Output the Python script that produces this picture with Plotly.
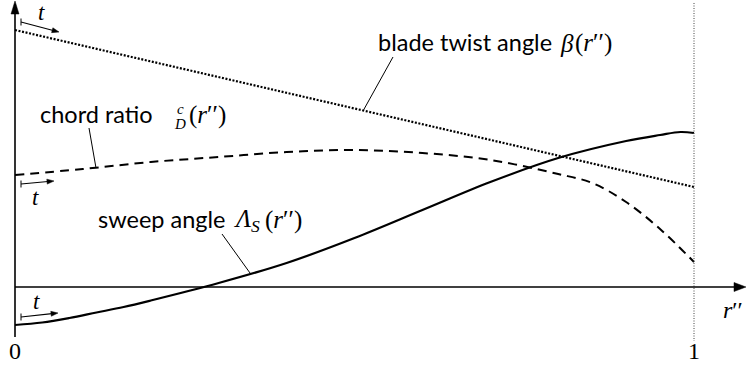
import math
import plotly.graph_objects as go

# Normalised radius r'' and the three blade distributions (arbitrary units)
r_twist = [0.0, 1.0]
beta = [2.57, 1.00]

r_chord = [0.0, 0.1, 0.2, 0.3, 0.4, 0.5, 0.6, 0.7, 0.8, 0.85, 0.9, 0.95, 1.0]
chord = [1.12, 1.18, 1.25, 1.30, 1.35, 1.37, 1.34, 1.27, 1.13, 1.04, 0.85, 0.58, 0.25]

r_sweep = [0.0, 0.04, 0.08, 0.12, 0.16, 0.2, 0.3, 0.4, 0.5, 0.6, 0.7, 0.8, 0.9, 0.95, 0.98, 1.0]
sweep = [-0.38, -0.355, -0.31, -0.255, -0.20, -0.135, 0.04, 0.24, 0.49, 0.77, 1.05, 1.29, 1.46, 1.52, 1.55, 1.54]

x_ticks = [0, 1]
x_tick_labels = ["0", "1"]

W, H = 746, 370
X0, X1, Y0 = 15, 694, 287  # pixel origin, r''=1 column, y=0 row
YS = 100.0


def X(px):
    return (px - X0) / (X1 - X0)


def Y(py):
    return (Y0 - py) / YS


SANS = "Lato"
SERIF = "Liberation Serif"
TXT = 23.5
MATH = 25
fig = go.Figure()

fig.add_trace(go.Scatter(x=r_twist, y=beta, mode="lines",
                         line=dict(color="black", width=2.2, dash="2px,1.6px")))
fig.add_trace(go.Scatter(x=r_chord, y=chord, mode="lines", line_shape="spline",
                         line=dict(color="black", width=2, dash="9px,6px")))
fig.add_trace(go.Scatter(x=r_sweep, y=sweep, mode="lines", line_shape="spline",
                         line=dict(color="black", width=2.2)))

shapes = []
ann = []


def seg(a, b, width, color="black", dash=None):
    line = dict(color=color, width=width)
    if dash:
        line["dash"] = dash
    shapes.append(dict(type="line", xref="x", yref="y", x0=X(a[0]), y0=Y(a[1]),
                       x1=X(b[0]), y1=Y(b[1]), line=line))


def arrow(tail, tip, width, head_len, head_w):
    # shaft plus a filled triangular head, sized in pixels
    dx, dy = tip[0] - tail[0], tip[1] - tail[1]
    n = math.hypot(dx, dy)
    ux, uy = dx / n, dy / n
    bx, by = tip[0] - ux * head_len, tip[1] - uy * head_len
    seg(tail, (bx + ux, by + uy), width)
    px, py = -uy * head_w / 2, ux * head_w / 2
    pts = [tip, (bx + px, by + py), (bx - px, by - py)]
    path = "M " + " L ".join(f"{X(p[0])},{Y(p[1])}" for p in pts) + " Z"
    shapes.append(dict(type="path", xref="x", yref="y", path=path,
                       fillcolor="black", line=dict(color="black", width=0.5)))


# r''=1 marker line
seg((X1, 3), (X1, 341), 1, "#444", "1px,1.5px")

# axes with arrow heads
arrow((X0, 337), (X0, 1), 1.6, 13, 8)
arrow((X0, Y0), (746, Y0), 1.6, 12, 9)

# "t" direction arrows with a start bar
for (tail, tip, tpos) in [((21, 22), (59, 32), (41, 12)),
                          ((21, 184), (54, 181), (35, 197)),
                          ((21, 317), (58, 313), (36, 301))]:
    arrow(tail, tip, 1.1, 7, 5)
    seg((tail[0], tail[1] - 3.5), (tail[0], tail[1] + 3.5), 1)
    ann.append(dict(x=X(tpos[0]), y=Y(tpos[1]), xref="x", yref="y", text="<i>t</i>",
                    showarrow=False, font=dict(family=SERIF, size=23, color="black")))

# leader lines
seg((393, 57), (363, 111), 1)
seg((89, 128), (96, 168), 1)
seg((222, 234), (250, 273), 1)


def label(px, py, text, family, size, anchor="left"):
    ann.append(dict(x=X(px), y=Y(py), xref="x", yref="y", text=text, showarrow=False,
                    xanchor=anchor, yanchor="middle",
                    font=dict(family=family, size=size, color="black")))


label(376, 42, "blade twist angle", SANS, TXT)
label(558, 43, "<i>β</i>", SERIF, MATH)
label(573, 43, "(<i>r</i>′′)", SERIF, MATH)
label(38, 114, "chord ratio", SANS, TXT)
label(180, 109, "<i>c</i>", SERIF, 15, "center")
label(180, 124, "<i>D</i>", SERIF, 15, "center")
label(187, 115, "(<i>r</i>′′)", SERIF, MATH)
label(96, 219, "sweep angle", SANS, TXT)
label(232, 220, "<i>Λ</i><sub><i>S</i></sub>", SERIF, MATH)
label(263, 220, "(<i>r</i>′′)", SERIF, MATH)
label(721, 310, "<i>r</i>′′", SERIF, 24)

# tick labels 0 and 1
for v, t in zip(x_ticks, x_tick_labels):
    ann.append(dict(x=v, y=Y(351), xref="x", yref="y", text=t, showarrow=False,
                    xanchor="center", yanchor="middle",
                    font=dict(family=SERIF, size=24, color="black")))

fig.update_layout(
    width=W, height=H, margin=dict(l=0, r=0, t=0, b=0),
    paper_bgcolor="white", plot_bgcolor="white", showlegend=False,
    xaxis=dict(range=[X(0), X(W)], visible=False, fixedrange=True),
    yaxis=dict(range=[Y(H), Y(0)], visible=False, fixedrange=True),
    shapes=shapes, annotations=ann,
)

fig.write_html("out.html")
